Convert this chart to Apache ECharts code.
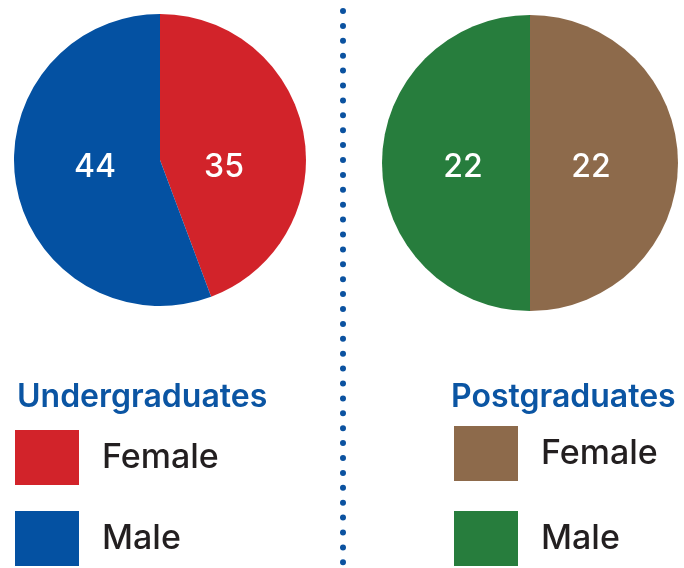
<!DOCTYPE html>
<html>
<head>
<meta charset="utf-8">
<script src="https://cdn.jsdelivr.net/npm/echarts@6/dist/echarts.min.js"></script>
<style>
  html, body { margin: 0; padding: 0; background: #fff; }
  #chart { width: 684px; height: 568px; }
</style>
</head>
<body>
<div id="chart"></div>
<script>
const groups = ['Undergraduates', 'Postgraduates']
const categories = ['Female', 'Male']
const ugValues = [35, 44]
const pgValues = [22, 22]
const ugColors = ['#d2232a', '#0451a2']
const pgColors = ['#8d6a4b', '#277d3d']

const font = 'Inter'
const chart = echarts.init(document.getElementById('chart'))

// label offsets from pie centre, so numbers sit on a horizontal line like the print
const labelOffsets = [
  [[64, 7], [-65, 7]],
  [[61, 4], [-67, 4]]
]

function pieSeries(name, values, colors, center, radius) {
  return {
    name: name,
    type: 'pie',
    center: center,
    radius: radius,
    startAngle: 90,
    clockwise: true,
    silent: true,
    label: {
      show: true,
      position: 'center',
      color: '#fff',
      fontFamily: font,
      fontSize: 32,
      fontWeight: 500,
      formatter: '{c}'
    },
    labelLine: { show: false },
    itemStyle: { borderWidth: 0 },
    data: categories.map((c, i) => ({ name: c, value: values[i], itemStyle: { color: colors[i] } }))
  }
}

function legendFor(left, top, gap, colors) {
  return {
    orient: 'vertical',
    left: left,
    top: top,
    padding: 0,
    icon: 'rect',
    itemWidth: 64,
    itemHeight: 55,
    itemGap: gap,
    selectedMode: false,
    textStyle: {
      fontFamily: font,
      fontSize: 34,
      fontWeight: 500,
      color: '#231f20',
      padding: [0, 0, 0, 18]
    },
    data: categories.map((c, i) => ({ name: c, itemStyle: { color: colors[i] } }))
  }
}

const option = {
  backgroundColor: '#fff',
  animation: false,
  title: [
    {
      text: groups[0], left: 17, top: 381, padding: 0,
      textStyle: { fontFamily: font, fontSize: 32, fontWeight: 600, color: '#0b55a3' }
    },
    {
      text: groups[1], left: 451, top: 381, padding: 0,
      textStyle: { fontFamily: font, fontSize: 32, fontWeight: 600, color: '#0b55a3' }
    }
  ],
  legend: [
    legendFor(15, 430, 26, ugColors),
    legendFor(454, 426, 30, pgColors)
  ],
  graphic: [{
    type: 'line',
    silent: true,
    shape: { x1: 343, y1: 11, x2: 343, y2: 575 },
    style: { stroke: '#0b52a0', lineWidth: 6, lineCap: 'round', lineDash: [0, 14.9] }
  }],
  series: [
    pieSeries(groups[0], ugValues, ugColors, [160, 160], 146),
    pieSeries(groups[1], pgValues, pgColors, [530, 163], 148)
  ]
}

option.series.forEach((s, si) => {
  s.labelLayout = p => ({ dx: labelOffsets[si][p.dataIndex][0], dy: labelOffsets[si][p.dataIndex][1] })
})

chart.setOption(option)
</script>
</body>
</html>
